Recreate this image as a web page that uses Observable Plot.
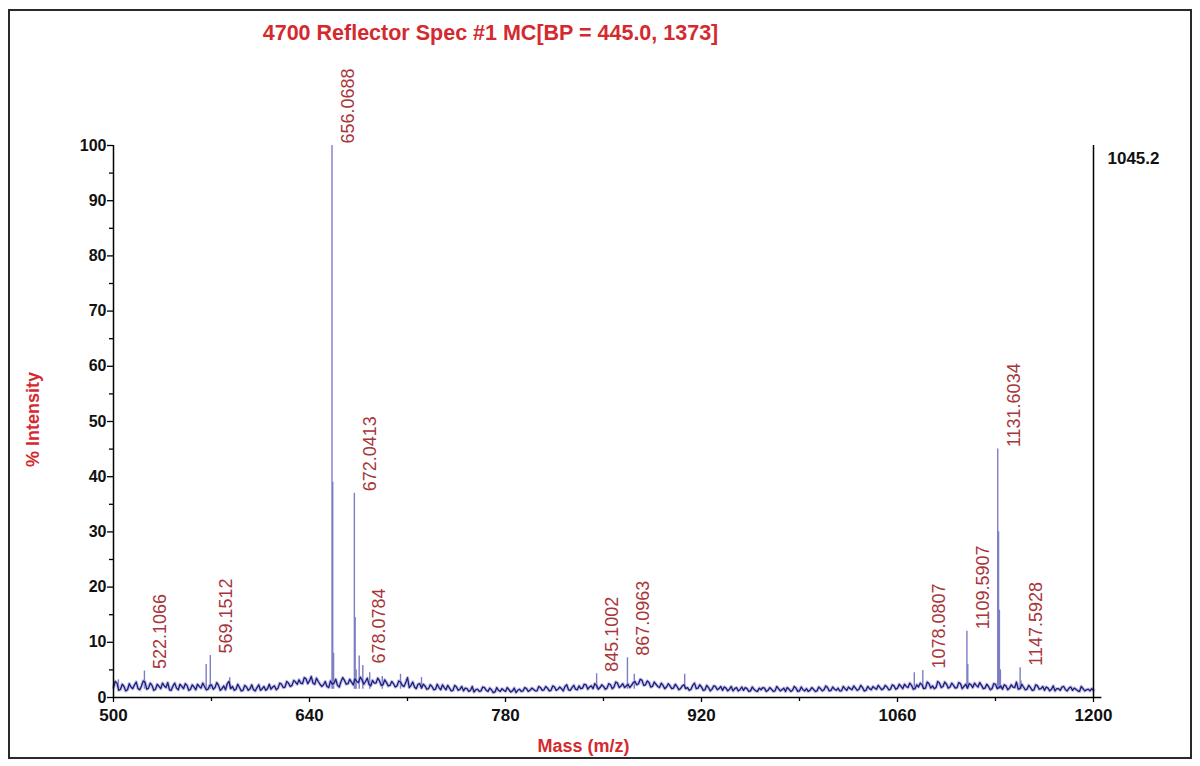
<!DOCTYPE html>
<html>
<head>
<meta charset="utf-8">
<script src="https://cdn.jsdelivr.net/npm/d3@7"></script>
<script src="https://cdn.jsdelivr.net/npm/@observablehq/plot@0.6"></script>
<style>
  html, body { margin: 0; padding: 0; background: #fff; }
  #wrap { position: relative; width: 1200px; height: 766px; }
  #border { position: absolute; left: 8px; top: 9px; width: 1180px; height: 746px; border: 2px solid #2a2a2a; pointer-events: none; }
  svg { font-family: "Liberation Sans", Arial, sans-serif; }
</style>
</head>
<body>
<div id="wrap"><div id="border"></div></div>
<script>
// ---------- data ----------
const titleText = "4700 Reflector Spec #1 MC[BP = 445.0, 1373]";
const xLabel = "Mass (m/z)";
const yLabel = "% Intensity";
const maxIntensityText = "1045.2";

const xTicks = [500, 640, 780, 920, 1060, 1200];
const xMinorTicks = [570, 710, 850, 990, 1130];
const yTicks = [0, 10, 20, 30, 40, 50, 60, 70, 80, 90, 100];
const yMinorTicks = [5, 15, 25, 35, 45, 55, 65, 75, 85, 95];

// baseline (noise) intensity, sampled every 2.5 m/z from 500 to 1200
const baselineStart = 500;
const baselineStep = 2.5;
const baselineValues = [
  1.8,2.6,1.5,2.0,1.4,1.9,2.3,1.6,2.1,2.8,1.7,2.2,1.5,2.0,2.6,1.8,1.4,2.1,1.7,2.4,
  1.6,2.2,1.5,1.9,2.4,1.7,2.0,1.5,2.3,1.8,2.2,1.6,1.4,2.9,2.0,1.5,1.8,1.3,1.9,1.6,
  1.4,1.8,1.3,2.0,1.6,1.5,2.1,1.7,2.4,1.9,2.6,2.2,2.8,3.2,2.5,3.4,3.0,2.6,3.5,2.4,
  2.3,2.0,3.0,2.6,2.2,2.9,3.1,2.5,2.8,3.4,2.7,3.2,2.9,2.4,3.1,2.6,3.0,2.3,2.7,2.2,
  2.5,2.1,2.8,2.0,3.6,2.2,1.9,2.4,1.7,2.1,1.6,2.0,1.5,1.8,2.3,1.4,1.7,1.3,1.9,1.5,
  1.2,1.6,1.3,1.0,1.5,1.2,1.8,1.1,1.4,1.0,1.3,1.6,1.1,1.4,1.2,0.9,1.5,1.2,1.6,1.3,
  1.5,1.2,1.8,1.4,1.7,1.3,1.9,1.5,1.6,2.0,1.4,1.8,1.5,2.1,1.7,2.3,1.9,1.6,2.2,1.8,
  2.0,1.7,2.3,1.9,2.6,2.1,1.8,2.4,2.2,2.9,2.5,3.1,2.3,2.7,2.0,2.4,1.8,2.2,1.9,2.1,
  1.7,2.0,1.6,2.3,1.8,1.5,2.6,1.7,1.9,1.4,1.8,1.5,2.0,1.6,1.3,1.7,1.5,1.2,1.8,1.4,
  1.3,1.6,1.2,1.5,1.1,1.4,1.7,1.3,1.5,1.2,1.6,1.4,1.1,1.5,1.3,1.7,1.2,1.4,1.6,1.3,
  1.5,1.2,1.6,1.4,1.8,1.3,1.5,1.7,1.2,1.6,1.9,1.4,1.7,1.5,1.8,1.3,1.6,2.0,1.5,1.8,
  1.6,1.9,1.5,2.1,1.7,2.0,2.4,1.8,2.2,1.6,1.9,2.3,1.7,2.5,2.1,1.8,2.6,2.0,2.4,1.9,
  2.2,1.8,2.5,2.0,1.7,2.3,2.6,1.9,2.2,1.7,2.0,1.6,2.4,1.8,1.5,2.1,1.7,1.9,2.8,1.6,
  1.9,1.5,1.8,1.4,2.1,1.6,1.3,1.7,1.5,1.2,1.6,1.9,1.4,1.7,1.3,1.5,1.1,1.6,1.4,1.2,
  1.3
];
// noise readings half-way between the samples above (501.25, 503.75, ... 1198.75)
const baselineMidValues = [
  2.9,1.3,2.4,1.2,2.5,1.6,2.8,1.4,3.0,1.5,2.6,1.3,2.4,1.6,2.1,2.7,1.3,2.6,1.4,2.0,
  2.5,1.3,2.3,1.4,2.0,2.6,1.4,2.2,1.5,2.7,1.3,2.1,2.5,1.6,1.3,2.4,1.2,2.2,1.3,2.3,
  1.2,2.3,1.6,1.3,2.4,1.9,1.4,2.6,1.8,2.9,2.0,3.1,2.4,2.6,3.6,2.5,3.8,2.4,2.9,2.0,
  2.9,1.8,2.4,3.3,1.9,3.6,2.4,3.3,2.3,2.9,3.7,2.4,3.5,2.1,2.6,3.5,2.2,3.2,2.1,2.9,
  1.9,3.0,2.2,2.7,1.8,2.8,1.6,2.5,2.4,1.5,2.3,1.4,2.4,1.4,1.8,2.2,1.2,2.2,1.3,2.0,
  1.7,1.1,2.0,1.4,1.1,1.9,1.3,1.7,0.9,1.8,1.1,1.3,1.8,1.0,1.7,1.3,1.1,1.8,1.1,1.7,
  1.2,2.0,1.3,2.0,1.2,2.1,1.3,1.9,1.2,2.3,1.3,2.2,1.4,1.6,2.4,1.5,2.1,2.5,1.5,2.3,
  1.5,2.5,1.6,2.8,1.8,2.5,2.1,1.8,2.7,2.3,3.3,2.2,3.0,1.9,2.8,2.0,2.6,1.6,2.5,1.6,
  2.4,1.4,2.1,1.6,1.3,2.2,1.6,2.3,1.3,2.2,1.2,2.1,1.4,2.0,1.9,1.2,2.0,1.6,1.2,1.9,
  1.8,1.1,1.9,1.2,1.7,1.8,1.1,1.8,1.1,2.0,1.2,1.7,1.8,1.1,2.0,1.1,1.9,1.2,1.1,1.8,
  1.1,1.9,1.2,2.1,1.2,1.9,1.3,1.2,2.0,1.3,1.6,2.1,1.3,2.2,1.2,2.0,1.4,1.7,2.2,1.4,
  2.2,1.4,2.3,1.5,2.4,1.6,2.0,2.6,1.5,2.3,2.6,1.6,2.8,1.7,1.6,2.9,1.8,2.8,1.7,2.6,
  1.7,2.7,1.6,2.4,2.5,1.8,2.2,2.7,1.6,2.4,1.4,2.5,1.6,2.1,2.3,1.4,2.3,1.8,1.5,2.4,
  1.4,2.2,1.3,2.3,1.5,2.0,1.9,1.2,2.1,1.6,1.3,2.0,1.2,1.9,1.7,1.2,2.0,1.2,1.5,1.6
];

// peaks (m/z, % intensity), including isotope shoulders and small unlabelled spikes
const peakMz  = [503.5, 522.1, 566.2, 569.15, 583.0, 656.07, 656.6, 657.2, 672.04, 672.6, 673.3, 675.5, 678.08, 683.0, 692.0, 705.0, 720.0,
                 845.1, 867.1, 872.0, 908.0, 1072.0, 1078.08, 1109.59, 1110.2, 1131.6, 1132.2, 1132.8, 1133.5, 1147.59, 1148.2];
const peakInt = [3.2, 4.8, 6.0, 7.6, 3.6, 100, 39, 8, 37, 14.5, 5, 7.5, 5.8, 4.5, 3.8, 4.2, 3.6,
                 4.3, 7.2, 4.2, 4.2, 4.5, 4.9, 12, 6, 45, 30, 15.8, 5, 5.4, 3];

// labelled peaks
const labelMz   = [522.1066, 569.1512, 656.0688, 672.0413, 678.0784, 845.1002, 867.0963, 1078.0807, 1109.5907, 1131.6034, 1147.5928];
const labelInt  = [4.8, 7.6, 100, 37, 5.8, 4.3, 7.2, 4.9, 12, 45, 5.4];
const labelText = ["522.1066", "569.1512", "656.0688", "672.0413", "678.0784", "845.1002", "867.0963", "1078.0807", "1109.5907", "1131.6034", "1147.5928"];

// ---------- tables built from the arrays ----------
const baseline = [];
baselineValues.forEach((v, i) => {
  baseline.push({mz: baselineStart + i * baselineStep, y: v});
  if (i < baselineMidValues.length) baseline.push({mz: baselineStart + (i + 0.5) * baselineStep, y: baselineMidValues[i]});
});
const peaks = peakMz.map((m, i) => ({mz: m, y: peakInt[i]}));
const labels = labelMz.map((m, i) => ({mz: m, y: labelInt[i], text: labelText[i]}));

const font = "Liberation Sans, Arial, sans-serif";
const red = "#d42a2f";
const fmt = d => String(d);

const chart = Plot.plot({
  width: 1200,
  height: 766,
  marginLeft: 113,
  marginRight: 107,
  marginTop: 145,
  marginBottom: 69,
  style: {fontFamily: font, background: "transparent", overflow: "visible"},
  x: {domain: [500, 1200], axis: null},
  y: {domain: [0, 100], axis: null},
  marks: [
    // peaks as sticks
    Plot.ruleX(peaks, {x: "mz", y1: 1.5, y2: "y", stroke: "#7d7dc4", strokeWidth: 1.4}),
    // noise baseline: light halo + dark line
    Plot.line(baseline, {x: "mz", y: "y", stroke: "#9c9cd8", strokeWidth: 3.4, strokeOpacity: 0.6}),
    Plot.line(baseline, {x: "mz", y: "y", stroke: "#1c1c7a", strokeWidth: 1.3}),
    // axes
    Plot.ruleX([500], {y1: 0, y2: 100, stroke: "#000", strokeWidth: 1.5}),
    Plot.ruleX([1200], {y1: 0, y2: 100, stroke: "#000", strokeWidth: 1.5}),
    Plot.ruleY([0], {x1: 500, x2: 1206, stroke: "#000", strokeWidth: 1.5}),
    Plot.axisY({ticks: yTicks, tickSize: 6, tickPadding: 1, tickFormat: fmt, fontSize: 16, fontWeight: "bold", fill: "#111", label: null, strokeWidth: 1.3}),
    Plot.axisY({ticks: yMinorTicks, tickSize: 4, tickFormat: () => "", label: null, strokeWidth: 1.3}),
    Plot.axisX({ticks: xTicks, tickSize: 5, tickPadding: 6, tickFormat: fmt, fontSize: 17, fontWeight: "bold", fill: "#111", label: null, strokeWidth: 1.3}),
    Plot.axisX({ticks: xMinorTicks, tickSize: 4, tickFormat: () => "", label: null, strokeWidth: 1.3}),
    // peak labels
    Plot.text(labels, {x: "mz", y: "y", text: "text", rotate: -90, textAnchor: "start", lineAnchor: "middle",
      dx: 16, dy: -2, fontSize: 18, fill: "#a8353a", fontFamily: font}),
    // title, axis titles, max intensity
    Plot.text([titleText], {frameAnchor: "top-left", dx: 377, dy: -112, textAnchor: "middle", lineAnchor: "middle",
      fontSize: 21.5, fontWeight: "bold", fill: red}),
    Plot.text([yLabel], {frameAnchor: "left", dx: -80, dy: -2, rotate: -90, textAnchor: "middle", lineAnchor: "middle",
      fontSize: 18, fontWeight: "bold", fill: red}),
    Plot.text([xLabel], {frameAnchor: "bottom", dx: -20, dy: 49, textAnchor: "middle", lineAnchor: "middle",
      fontSize: 18, fontWeight: "bold", fill: red}),
    Plot.text([maxIntensityText], {frameAnchor: "top-right", dx: 14, dy: 13, textAnchor: "start", lineAnchor: "middle",
      fontSize: 17, fontWeight: "bold", fill: "#111"})
  ]
});
chart.style.position = "absolute";
chart.style.left = "0px";
chart.style.top = "0px";
document.getElementById("wrap").appendChild(chart);
</script>
</body>
</html>
